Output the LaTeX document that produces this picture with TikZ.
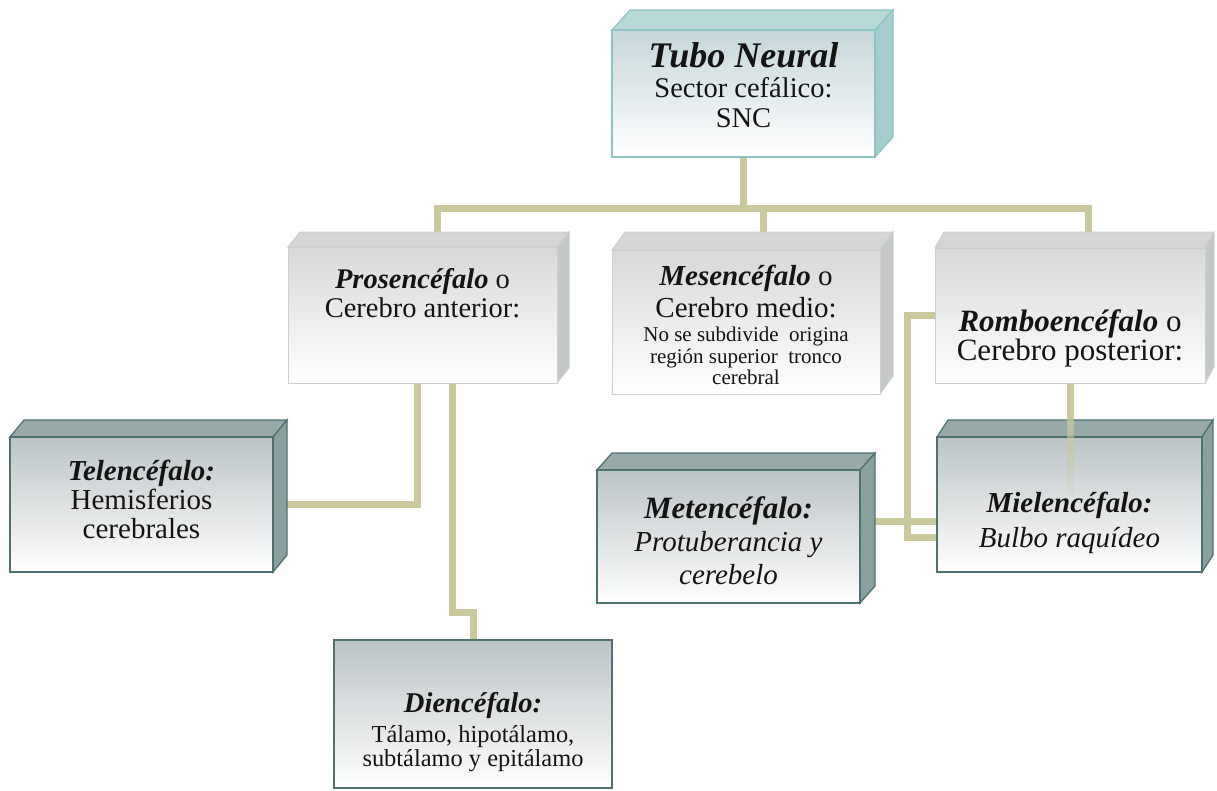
\documentclass[tikz,border=0pt]{standalone}
\usepackage{fontspec}
\setmainfont{Liberation Serif}
\usetikzlibrary{backgrounds,fadings}

\definecolor{conector}{HTML}{C9C99B}
\definecolor{tinta}{HTML}{141414}
\definecolor{tuboBorde}{HTML}{8CC3C3}
\definecolor{tuboCara}{HTML}{B9D8D8}
\definecolor{tuboLado}{HTML}{A6CDCD}
\definecolor{tuboFrente}{HTML}{C6D6DA}
\definecolor{claroBorde}{HTML}{CDCFCF}
\definecolor{claroCara}{HTML}{D4D6D6}
\definecolor{claroLado}{HTML}{C4C8C8}
\definecolor{claroFrente}{HTML}{D6D8DA}
\definecolor{oscuroBorde}{HTML}{4E7270}
\definecolor{oscuroCara}{HTML}{98AAA8}
\definecolor{oscuroLado}{HTML}{8AA09E}
\definecolor{oscuroFrente}{HTML}{BCC4C6}

\newcommand{\tit}[1]{\textbf{\textit{#1}}}
% caja en relieve: estilo, nombre, x1, y1, x2, y2, dx, dy
\newcommand{\cubo}[8]{%
  \filldraw[#1 cara] (#3,#4) -- ++(#7,-#8) -- ++({#5-#3},0) -- (#5,#4) -- cycle;
  \filldraw[#1 lado] (#5,#4) -- ++(#7,-#8) -- ++(0,{#6-#4}) -- (#5,#6) -- cycle;
  \node[#1 frente,minimum width={#5-#3},minimum height={#6-#4}] (#2) at ({(#3+#5)/2},{(#4+#6)/2}) {};
}

\begin{document}
\begin{tikzpicture}[x=1pt,y=-1pt,
    conn/.style={draw=conector,line width=7pt},
    texto/.style={align=center,inner sep=0pt,text=tinta},
    tubo cara/.style={fill=tuboCara,draw=tuboBorde,line width=1.2pt},
    tubo lado/.style={fill=tuboLado,draw=tuboBorde,line width=1.2pt},
    tubo frente/.style={draw=tuboBorde,line width=1.2pt,top color=tuboFrente,bottom color=white,inner sep=0pt},
    claro cara/.style={fill=claroCara,draw=claroBorde,line width=1pt},
    claro lado/.style={fill=claroLado,draw=claroBorde,line width=1pt},
    claro frente/.style={draw=claroBorde,line width=1pt,top color=claroFrente,bottom color=white,inner sep=0pt},
    oscuro cara/.style={fill=oscuroCara,draw=oscuroBorde,line width=1.3pt},
    oscuro lado/.style={fill=oscuroLado,draw=oscuroBorde,line width=1.3pt},
    oscuro frente/.style={draw=oscuroBorde,line width=1.3pt,top color=oscuroFrente,bottom color=white,inner sep=0pt},
  ]
  \useasboundingbox (0,0) rectangle (1217,790);

  % cajas
  \cubo{tubo}{tubo}{612}{30}{875}{157}{18}{20}
  \cubo{claro}{pros}{288}{247}{557}{383}{12}{15}
  \cubo{claro}{mes}{612}{250}{880}{394}{13}{18}
  \cubo{claro}{rombo}{935}{248}{1205}{383}{9}{16}
  \cubo{oscuro}{tel}{10}{437}{273}{572}{14}{17}
  \cubo{oscuro}{meten}{597}{470}{860}{603}{15}{17}
  \cubo{oscuro}{mielen}{937}{437}{1202}{572}{11}{17}
  \node[oscuro frente,minimum width=278,minimum height=148] (dien) at (473,714) {};

  % conectores
  \begin{scope}[on background layer]
    \fill[white] (0,0) rectangle (1217,790);
    \coordinate (cruce) at ([yshift=-51pt]tubo.south);
    \draw[conn] (tubo.south) -- (cruce);
    \draw[conn] ([xshift=15pt]pros.north) |- (cruce) -| ([xshift=18pt]rombo.north);
    \draw[conn] ([xshift=17pt]mes.north) -- ([xshift=17pt]mes.north |- cruce);
    \draw[conn] ([xshift=-5pt]pros.south) |- (tel.east);
    \draw[conn] ([xshift=30pt]pros.south) |- ([yshift=27pt]dien.north) -- (dien.north);
    \draw[conn] (rombo.west) -- ++(-27,0) |- ([yshift=-33pt]mielen.west);
    \draw[conn] (rombo.south) |- ([yshift=15pt]meten.east);
  \end{scope}
  \coordinate (paso) at (rombo.south |- mielen.north);
  \draw[conn,path fading=south,draw opacity=.8] ([yshift=17pt]paso) -- ([yshift=-60pt]paso);

  % textos
  \node[texto,font=\fontsize{28.5}{30}\selectfont] (tubotxt) at ([yshift=8pt]tubo.center)
    {{\fontsize{36}{30}\selectfont\tit{Tubo Neural}}\\Sector cefálico:\\SNC};
  \node[texto,font=\fontsize{28.5}{29}\selectfont] (prostxt) at ([yshift=22pt]pros.center)
    {\tit{Prosencéfalo} o\\Cerebro anterior:};
  \node[texto,font=\fontsize{29}{32}\selectfont] (mestxt) at ([yshift=31pt]mes.center)
    {\tit{Mesencéfalo} o\\Cerebro medio:};
  \node[texto,font=\fontsize{21}{21.5}\selectfont] (mesnota) at ([yshift=-34pt]mes.center)
    {No se subdivide\enspace origina\\región superior\enspace tronco\\cerebral};
  \node[texto,font=\fontsize{31}{28}\selectfont] (rombotxt) at ([yshift=-23pt]rombo.center)
    {\tit{Romboencéfalo} o\\Cerebro posterior:};
  \node[texto,font=\fontsize{29}{29}\selectfont] (teltxt) at ([yshift=5pt]tel.center)
    {\tit{Telencéfalo:}\\Hemisferios\\cerebrales};
  \node[texto,font=\fontsize{29}{33}\selectfont] (metentxt) at ([yshift=-4pt]meten.center)
    {{\fontsize{31}{33}\selectfont\tit{Metencéfalo:}}\\\textit{Protuberancia y}\\\textit{cerebelo}};
  \node[texto,font=\fontsize{29}{35}\selectfont] (mielentxt) at ([yshift=-18pt]mielen.center)
    {\tit{Mielencéfalo:}\\\textit{Bulbo raquídeo}};
  \node[texto,font=\fontsize{24.4}{22}\selectfont] (dientxt) at ([yshift=-18pt]dien.center)
    {{\fontsize{28.6}{22}\selectfont\tit{Diencéfalo:}}\\[6pt]Tálamo, hipotálamo,\\subtálamo y epitálamo};
\end{tikzpicture}
\end{document}
